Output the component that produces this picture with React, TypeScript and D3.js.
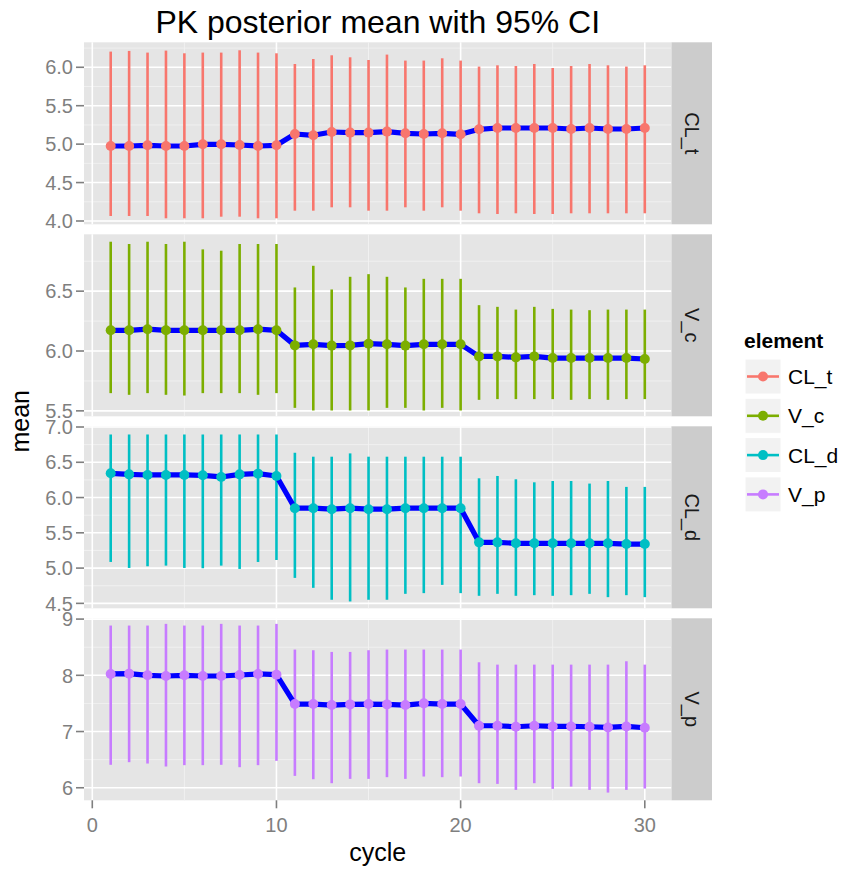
import React from "react";
import * as d3 from "d3";

// ---- data ---------------------------------------------------------------
const elements = ["CL_t", "V_c", "CL_d", "V_p"];
const elementColors = ["#F8766D", "#7CAE00", "#00BFC4", "#C77CFF"];

const cycles = [
  1, 2, 3, 4, 5, 6, 7, 8, 9, 10, 11, 12, 13, 14, 15, 16, 17, 18, 19, 20, 21, 22,
  23, 24, 25, 26, 27, 28, 29, 30,
];

const clTMean = [4.976, 4.976, 4.985, 4.976, 4.976, 4.998, 4.998, 4.989, 4.976, 4.985, 5.132, 5.115, 5.158, 5.15, 5.15, 5.163, 5.141, 5.132, 5.141, 5.128, 5.193, 5.21, 5.21, 5.21, 5.21, 5.197, 5.21, 5.197, 5.197, 5.21];
const clTUpper = [6.204, 6.213, 6.191, 6.217, 6.182, 6.191, 6.191, 6.221, 6.191, 6.182, 6.043, 6.108, 6.156, 6.13, 6.095, 6.165, 6.087, 6.087, 6.117, 6.087, 6.009, 6.026, 6.017, 6.043, 5.991, 6.017, 6.043, 6.026, 6.009, 6.026];
const clTLower = [4.065, 4.065, 4.065, 4.035, 4.035, 4.035, 4.056, 4.056, 4.035, 4.035, 4.134, 4.134, 4.178, 4.178, 4.134, 4.134, 4.178, 4.134, 4.178, 4.134, 4.1, 4.091, 4.1, 4.091, 4.091, 4.1, 4.1, 4.1, 4.1, 4.1];

const vCMean = [6.173, 6.173, 6.182, 6.173, 6.173, 6.173, 6.173, 6.173, 6.182, 6.173, 6.047, 6.056, 6.045, 6.047, 6.061, 6.056, 6.045, 6.056, 6.056, 6.056, 5.955, 5.955, 5.947, 5.955, 5.941, 5.941, 5.941, 5.941, 5.941, 5.933];
const vCUpper = [6.913, 6.894, 6.913, 6.894, 6.913, 6.849, 6.838, 6.894, 6.894, 6.894, 6.531, 6.712, 6.514, 6.62, 6.642, 6.62, 6.531, 6.603, 6.603, 6.603, 6.383, 6.369, 6.346, 6.369, 6.352, 6.346, 6.341, 6.346, 6.346, 6.346];
const vCLower = [5.648, 5.634, 5.648, 5.634, 5.628, 5.648, 5.648, 5.648, 5.634, 5.648, 5.525, 5.503, 5.503, 5.503, 5.503, 5.525, 5.525, 5.503, 5.525, 5.503, 5.592, 5.598, 5.598, 5.598, 5.598, 5.592, 5.598, 5.592, 5.598, 5.598];

const clDMean = [6.344, 6.329, 6.32, 6.32, 6.32, 6.315, 6.292, 6.329, 6.339, 6.306, 5.849, 5.849, 5.835, 5.849, 5.835, 5.835, 5.849, 5.849, 5.849, 5.849, 5.365, 5.365, 5.351, 5.351, 5.351, 5.351, 5.351, 5.351, 5.341, 5.341];
const clDUpper = [6.894, 6.894, 6.894, 6.894, 6.894, 6.894, 6.894, 6.894, 6.894, 6.894, 6.635, 6.579, 6.579, 6.626, 6.579, 6.579, 6.579, 6.579, 6.579, 6.579, 6.273, 6.306, 6.259, 6.216, 6.235, 6.235, 6.198, 6.235, 6.151, 6.151];
const clDLower = [5.087, 5.002, 5.026, 5.035, 5.002, 4.998, 5.035, 4.988, 5.087, 5.115, 4.861, 4.72, 4.551, 4.527, 4.551, 4.551, 4.635, 4.645, 4.762, 4.645, 4.607, 4.635, 4.607, 4.616, 4.607, 4.616, 4.635, 4.588, 4.616, 4.588];

const vPMean = [8.024, 8.03, 8.0, 7.988, 8.0, 7.988, 7.988, 8.006, 8.024, 8.012, 7.489, 7.489, 7.471, 7.483, 7.489, 7.483, 7.471, 7.501, 7.489, 7.489, 7.103, 7.103, 7.085, 7.103, 7.091, 7.091, 7.085, 7.073, 7.091, 7.067];
const vPUpper = [8.885, 8.885, 8.885, 8.915, 8.885, 8.885, 8.915, 8.885, 8.885, 8.915, 8.458, 8.446, 8.416, 8.416, 8.446, 8.458, 8.458, 8.458, 8.458, 8.458, 8.232, 8.19, 8.19, 8.19, 8.19, 8.19, 8.19, 8.19, 8.25, 8.19];
const vPLower = [6.408, 6.455, 6.431, 6.378, 6.402, 6.402, 6.408, 6.366, 6.402, 6.479, 6.211, 6.152, 6.081, 6.158, 6.158, 6.188, 6.158, 6.2, 6.188, 6.2, 6.081, 6.069, 5.962, 6.081, 5.98, 6.021, 5.962, 5.914, 5.962, 5.986];

const means = [clTMean, vCMean, clDMean, vPMean];
const uppers = [clTUpper, vCUpper, clDUpper, vPUpper];
const lowers = [clTLower, vCLower, clDLower, vPLower];

// y axis breaks and labels per facet
const yTicks = [
  [4.0, 4.5, 5.0, 5.5, 6.0],
  [5.5, 6.0, 6.5],
  [4.5, 5.0, 5.5, 6.0, 6.5, 7.0],
  [6, 7, 8, 9],
];
const yTickLabels = [
  ["4.0", "4.5", "5.0", "5.5", "6.0"],
  ["5.5", "6.0", "6.5"],
  ["4.5", "5.0", "5.5", "6.0", "6.5", "7.0"],
  ["6", "7", "8", "9"],
];
const yDomains = [
  [3.957, 6.325],
  [5.4545, 6.975],
  [4.43, 7.01],
  [5.777, 9.014],
];

const xTicks = [0, 10, 20, 30];
const xTickLabels = ["0", "10", "20", "30"];
const xMinorTicks = [5, 15, 25];

// ---- layout -------------------------------------------------------------
const W = 846;
const H = 872;
const PANEL_L = 84;
const PANEL_R = 671.5;
const STRIP_W = 40.5;
const PANEL_TOP = 42.3;
const PANEL_H = 182;
const PANEL_GAP = 10;
const FONT = "'Liberation Sans', Arial, Helvetica, sans-serif";
const GREY_TEXT = "#7F7F7F";

const x = d3.scaleLinear().domain([-0.45, 31.45]).range([PANEL_L, PANEL_R]);

function minorTicks(ticks: number[], domain: number[]) {
  const step = ticks[1] - ticks[0];
  const out: number[] = [];
  for (let i = -1; i < ticks.length; i++) {
    const v = ticks[0] + step * i + step / 2;
    if (v > domain[0] && v < domain[1]) out.push(v);
  }
  return out;
}

function Panel({ idx }: { idx: number }) {
  const top = PANEL_TOP + idx * (PANEL_H + PANEL_GAP);
  const bottom = top + PANEL_H;
  const y = d3.scaleLinear().domain(yDomains[idx]).range([bottom, top]);
  const color = elementColors[idx];
  const rows = cycles.map((c, i) => ({
    c,
    m: means[idx][i],
    lo: lowers[idx][i],
    hi: uppers[idx][i],
  }));
  const line = d3
    .line<{ c: number; m: number }>()
    .x((d) => x(d.c))
    .y((d) => y(d.m));
  const minors = minorTicks(yTicks[idx], yDomains[idx]);
  const isLast = idx === elements.length - 1;

  return (
    <g>
      <rect x={PANEL_L} y={top} width={PANEL_R - PANEL_L} height={PANEL_H} fill="#E5E5E5" />
      {/* minor grid */}
      {minors.map((v) => (
        <line key={"ym" + v} x1={PANEL_L} x2={PANEL_R} y1={y(v)} y2={y(v)} stroke="#F2F2F2" strokeWidth={0.9} />
      ))}
      {xMinorTicks.map((v) => (
        <line key={"xm" + v} x1={x(v)} x2={x(v)} y1={top} y2={bottom} stroke="#F2F2F2" strokeWidth={0.9} />
      ))}
      {/* major grid */}
      {yTicks[idx].map((v) => (
        <line key={"yM" + v} x1={PANEL_L} x2={PANEL_R} y1={y(v)} y2={y(v)} stroke="#FFFFFF" strokeWidth={1.6} />
      ))}
      {xTicks.map((v) => (
        <line key={"xM" + v} x1={x(v)} x2={x(v)} y1={top} y2={bottom} stroke="#FFFFFF" strokeWidth={1.6} />
      ))}

      {/* credible intervals */}
      {rows.map((d) => (
        <line key={"ci" + d.c} x1={x(d.c)} x2={x(d.c)} y1={y(d.lo)} y2={y(d.hi)} stroke={color} strokeWidth={2.6} />
      ))}
      {/* posterior mean path */}
      <path d={line(rows) || ""} fill="none" stroke="#0000FF" strokeWidth={5.2} strokeLinejoin="round" />
      {rows.map((d) => (
        <circle key={"pt" + d.c} cx={x(d.c)} cy={y(d.m)} r={5} fill={color} />
      ))}

      {/* y axis */}
      {yTicks[idx].map((v, i) => (
        <g key={"yt" + v}>
          <line x1={PANEL_L - 8} x2={PANEL_L} y1={y(v)} y2={y(v)} stroke={GREY_TEXT} strokeWidth={1.6} />
          <text x={PANEL_L - 11} y={y(v)} dy="0.36em" textAnchor="end" fontSize={20} fill={GREY_TEXT} fontFamily={FONT}>
            {yTickLabels[idx][i]}
          </text>
        </g>
      ))}

      {/* strip */}
      <rect x={PANEL_R} y={top} width={STRIP_W} height={PANEL_H} fill="#CCCCCC" />
      <text
        transform={`translate(${PANEL_R + STRIP_W / 2},${(top + bottom) / 2}) rotate(90)`}
        textAnchor="middle"
        dy="0.36em"
        fontSize={20}
        fill="#1A1A1A"
        fontFamily={FONT}
      >
        {elements[idx]}
      </text>

      {/* x axis under the last facet */}
      {isLast &&
        xTicks.map((v, i) => (
          <g key={"xt" + v}>
            <line x1={x(v)} x2={x(v)} y1={bottom} y2={bottom + 8} stroke={GREY_TEXT} strokeWidth={1.6} />
            <text x={x(v)} y={bottom + 32} textAnchor="middle" fontSize={20} fill={GREY_TEXT} fontFamily={FONT}>
              {xTickLabels[i]}
            </text>
          </g>
        ))}
    </g>
  );
}

function Legend() {
  const left = 745;
  const keyW = 36;
  const keyH = 35;
  const step = 39.3;
  const firstTop = 359;
  return (
    <g>
      <text x={left - 1} y={348} fontSize={21} fontWeight="bold" fill="#000" fontFamily={FONT}>
        element
      </text>
      {elements.map((name, i) => {
        const ty = firstTop + i * step;
        const cy = ty + keyH / 2;
        return (
          <g key={name}>
            <rect x={left} y={ty} width={keyW} height={keyH} fill="#F2F2F2" stroke="#FFFFFF" strokeWidth={1} />
            <line x1={left + 2} x2={left + keyW - 2} y1={cy} y2={cy} stroke={elementColors[i]} strokeWidth={2.6} />
            <circle cx={left + keyW / 2} cy={cy} r={5} fill={elementColors[i]} />
            <text x={left + keyW + 7} y={cy} dy="0.36em" fontSize={21} fill="#000" fontFamily={FONT}>
              {name}
            </text>
          </g>
        );
      })}
    </g>
  );
}

export default function App() {
  const lastBottom = PANEL_TOP + elements.length * PANEL_H + (elements.length - 1) * PANEL_GAP;
  const midX = (PANEL_L + PANEL_R) / 2;
  return (
    <svg width={W} height={H} viewBox={`0 0 ${W} ${H}`} style={{ display: "block", position: "absolute", left: 0, top: 0 }}>
      <rect x={0} y={0} width={W} height={H} fill="#FFFFFF" />
      <text x={midX} y={33} textAnchor="middle" fontSize={32} fill="#000" fontFamily={FONT}>
        PK posterior mean with 95% CI
      </text>
      {elements.map((_, i) => (
        <Panel key={i} idx={i} />
      ))}
      <text x={midX} y={lastBottom + 61} textAnchor="middle" fontSize={25} fill="#000" fontFamily={FONT}>
        cycle
      </text>
      <text
        transform={`translate(29,${(PANEL_TOP + lastBottom) / 2}) rotate(-90)`}
        textAnchor="middle"
        fontSize={25}
        fill="#000"
        fontFamily={FONT}
      >
        mean
      </text>
      <Legend />
    </svg>
  );
}
